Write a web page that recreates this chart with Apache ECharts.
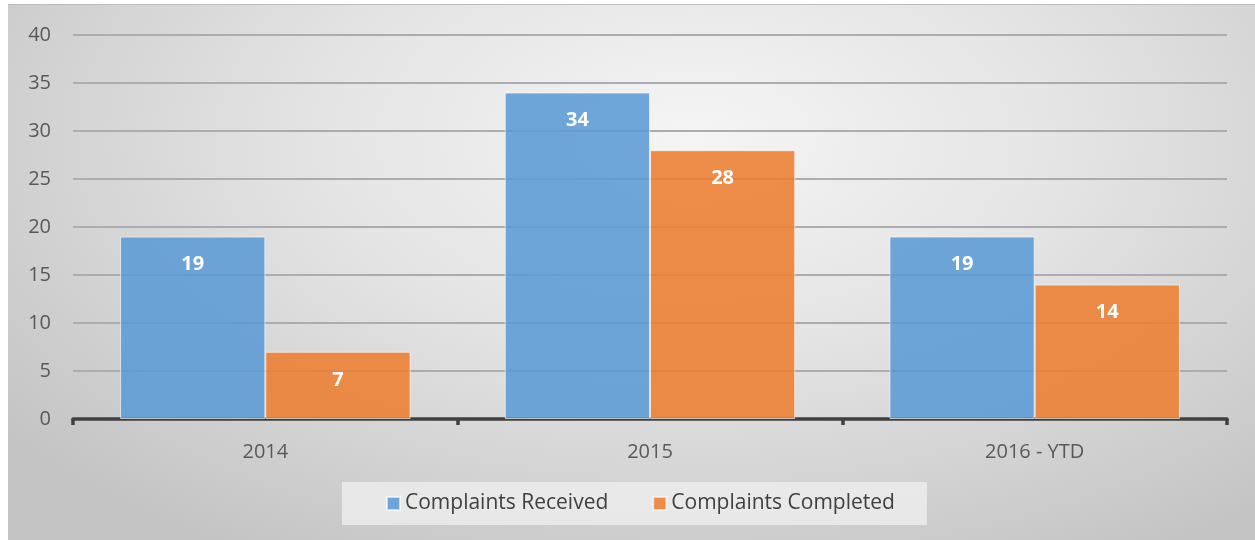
<!DOCTYPE html>
<html>
<head>
<meta charset="utf-8">
<script src="https://cdn.jsdelivr.net/npm/echarts@6/dist/echarts.min.js"></script>
<style>
  html, body { margin: 0; padding: 0; background: #fff; }
  #chart {
    position: absolute; left: 8px; top: 4px; width: 1247px; height: 536px;
    background: radial-gradient(ellipse 70% 90% at 55% 25%, #f5f5f5 0%, #e3e3e3 45%, #c4c4c4 100%);
    border-top: 1px solid #bdbdbd;
  }
</style>
</head>
<body>
<div id="chart"></div>
<script>
// 数据
const years = ["2014", "2015", "2016 - YTD"];
const received = [19, 34, 19];
const completed = [7, 28, 14];
const yTicks = [0, 5, 10, 15, 20, 25, 30, 35, 40];

const chart = echarts.init(document.getElementById("chart"));
const font = "'Open Sans', sans-serif";

const barLabel = {
  show: true,
  position: "insideTop",
  distance: 18,
  color: "#fff",
  fontWeight: "bold",
  fontSize: 20,
  fontFamily: font,
};

chart.setOption({
  backgroundColor: "transparent",
  animation: false,
  grid: { left: 65, right: 28, top: 30, bottom: 122 },
  legend: {
    left: 334,
    top: 477,
    data: ["Complaints Received", "Complaints Completed"],
    icon: "rect",
    itemWidth: 13,
    itemHeight: 13,
    itemGap: 44,
    padding: [11, 32, 11, 44],
    backgroundColor: "rgba(240,240,240,0.75)",
    textStyle: { color: "#404040", fontSize: 21, fontFamily: font },
  },
  xAxis: {
    type: "category",
    data: years,
    axisLine: { lineStyle: { color: "#404040", width: 3.5 } },
    axisTick: { show: true, length: 6, lineStyle: { color: "#404040", width: 3.5 } },
    axisLabel: { color: "#595959", fontSize: 20, fontFamily: font, margin: 23 },
  },
  yAxis: {
    type: "value",
    min: yTicks[0],
    max: yTicks[yTicks.length - 1],
    interval: 5,
    axisLine: { show: false },
    axisTick: { show: false },
    axisLabel: { color: "#595959", fontSize: 20, fontFamily: font, margin: 22 },
    splitLine: { lineStyle: { color: "#adadad", width: 2 } },
  },
  series: [
    {
      name: "Complaints Received",
      type: "bar",
      data: received,
      barGap: "0%",
      barCategoryGap: "24.5%",
      itemStyle: { color: "rgba(91,155,213,0.88)", borderColor: "rgba(255,255,255,0.6)", borderWidth: 1 },
      label: barLabel,
    },
    {
      name: "Complaints Completed",
      type: "bar",
      data: completed,
      itemStyle: { color: "rgba(237,125,49,0.88)", borderColor: "rgba(255,255,255,0.6)", borderWidth: 1 },
      label: barLabel,
    },
  ],
});
</script>
</body>
</html>
